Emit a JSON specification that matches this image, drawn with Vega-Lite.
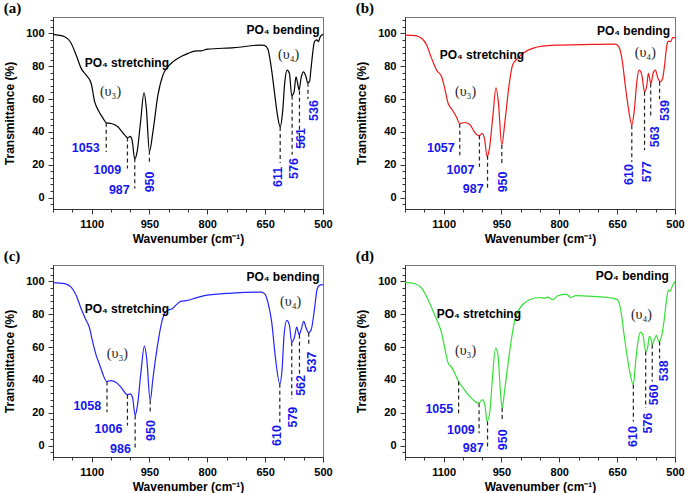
{
  "$schema": "https://vega.github.io/schema/vega-lite/v6.json",
  "background": "white",
  "padding": {"left": 3, "top": 0, "right": 4, "bottom": 2},
  "config": {
    "font": "Liberation Sans",
    "view": {"stroke": "#777", "strokeWidth": 1},
    "axis": {"grid": false, "labelFont": "Liberation Sans", "labelFontWeight": "bold", "labelFontSize": 11, "labelColor": "#000", "titleFont": "Liberation Sans", "titleFontWeight": "bold", "titleFontSize": 12, "titleColor": "#000", "domainColor": "#333", "tickColor": "#333", "tickSize": 5, "labelFlush": false, "labelOverlap": false, "labelPadding": 4},
    "title": {"font": "Liberation Serif", "fontSize": 15, "fontWeight": "bold", "anchor": "start", "frame": "bounds", "offset": 1, "color": "#000"},
    "text": {"font": "Liberation Sans"}
  },
  "datasets": {
    "curve": [
      {"p":"a","wn":1200,"t":99.4},{"p":"a","wn":1170,"t":98},{"p":"a","wn":1153,"t":94},{"p":"a","wn":1140,"t":86.8},{"p":"a","wn":1127,"t":78.7},{"p":"a","wn":1114,"t":74.6},{"p":"a","wn":1101,"t":69.5},{"p":"a","wn":1092,"t":58.4},{"p":"a","wn":1083,"t":53.3},{"p":"a","wn":1070,"t":48.2},{"p":"a","wn":1062,"t":45.5},{"p":"a","wn":1049,"t":45.1},{"p":"a","wn":1032,"t":43.1},{"p":"a","wn":1014,"t":38},{"p":"a","wn":1006,"t":36.4},{"p":"a","wn":1000,"t":37.2},{"p":"a","wn":995,"t":35},{"p":"a","wn":988,"t":23.5},{"p":"a","wn":982,"t":27.8},{"p":"a","wn":973,"t":46},{"p":"a","wn":964,"t":64},{"p":"a","wn":958,"t":54.3},{"p":"a","wn":950,"t":28},{"p":"a","wn":941,"t":40},{"p":"a","wn":928,"t":62.4},{"p":"a","wn":915,"t":74.6},{"p":"a","wn":902,"t":79.7},{"p":"a","wn":890,"t":82.5},{"p":"a","wn":876,"t":84.8},{"p":"a","wn":864,"t":86.4},{"p":"a","wn":850,"t":87.8},{"p":"a","wn":833,"t":89.2},{"p":"a","wn":816,"t":89.4},{"p":"a","wn":799,"t":90.4},{"p":"a","wn":730,"t":91.3},{"p":"a","wn":661,"t":92.9},{"p":"a","wn":652,"t":92.7},{"p":"a","wn":643,"t":90.5},{"p":"a","wn":635,"t":80.7},{"p":"a","wn":626,"t":64.4},{"p":"a","wn":618,"t":50},{"p":"a","wn":611,"t":43},{"p":"a","wn":605,"t":51.4},{"p":"a","wn":599,"t":70.5},{"p":"a","wn":593,"t":77.6},{"p":"a","wn":587,"t":75.6},{"p":"a","wn":581,"t":62},{"p":"a","wn":575,"t":64.4},{"p":"a","wn":570,"t":73.6},{"p":"a","wn":565,"t":68.5},{"p":"a","wn":562,"t":65.4},{"p":"a","wn":557,"t":72.6},{"p":"a","wn":551,"t":76.6},{"p":"a","wn":544,"t":73.6},{"p":"a","wn":540,"t":70},{"p":"a","wn":535,"t":70.5},{"p":"a","wn":531,"t":78.7},{"p":"a","wn":522,"t":95},{"p":"a","wn":516,"t":96},{"p":"a","wn":512,"t":95},{"p":"a","wn":507,"t":98},{"p":"a","wn":500,"t":99.4},
      {"p":"b","wn":1200,"t":99},{"p":"b","wn":1174,"t":98.6},{"p":"b","wn":1157,"t":97},{"p":"b","wn":1144,"t":92.9},{"p":"b","wn":1131,"t":84.8},{"p":"b","wn":1118,"t":77.6},{"p":"b","wn":1105,"t":73.6},{"p":"b","wn":1097,"t":66.5},{"p":"b","wn":1088,"t":57.3},{"p":"b","wn":1080,"t":54.3},{"p":"b","wn":1067,"t":49.2},{"p":"b","wn":1058,"t":45.1},{"p":"b","wn":1045,"t":45.7},{"p":"b","wn":1032,"t":44.5},{"p":"b","wn":1020,"t":40},{"p":"b","wn":1008,"t":37.6},{"p":"b","wn":1000,"t":39},{"p":"b","wn":994,"t":36},{"p":"b","wn":987,"t":25},{"p":"b","wn":981,"t":30},{"p":"b","wn":972,"t":50.2},{"p":"b","wn":964,"t":66.9},{"p":"b","wn":958,"t":58.3},{"p":"b","wn":949,"t":31.9},{"p":"b","wn":941,"t":46.1},{"p":"b","wn":929,"t":70.5},{"p":"b","wn":921,"t":80.7},{"p":"b","wn":908,"t":84.8},{"p":"b","wn":891,"t":88.4},{"p":"b","wn":869,"t":90.9},{"p":"b","wn":844,"t":92.3},{"p":"b","wn":801,"t":92.9},{"p":"b","wn":715,"t":93.3},{"p":"b","wn":655,"t":93.5},{"p":"b","wn":646,"t":91.9},{"p":"b","wn":637,"t":83.7},{"p":"b","wn":629,"t":68.5},{"p":"b","wn":618,"t":50.2},{"p":"b","wn":612,"t":44.1},{"p":"b","wn":605,"t":54.3},{"p":"b","wn":599,"t":70.5},{"p":"b","wn":593,"t":77.6},{"p":"b","wn":586,"t":74.6},{"p":"b","wn":579,"t":64.4},{"p":"b","wn":573,"t":68.5},{"p":"b","wn":569,"t":75.6},{"p":"b","wn":564,"t":70.5},{"p":"b","wn":562,"t":69.5},{"p":"b","wn":557,"t":75.6},{"p":"b","wn":551,"t":77.6},{"p":"b","wn":544,"t":72.6},{"p":"b","wn":538,"t":70.5},{"p":"b","wn":532,"t":72.6},{"p":"b","wn":527,"t":80.7},{"p":"b","wn":521,"t":92.9},{"p":"b","wn":517,"t":95.3},{"p":"b","wn":511,"t":95},{"p":"b","wn":506,"t":97.4},{"p":"b","wn":500,"t":97.4},
      {"p":"c","wn":1200,"t":99.2},{"p":"c","wn":1170,"t":98.6},{"p":"c","wn":1153,"t":96.5},{"p":"c","wn":1140,"t":91.5},{"p":"c","wn":1127,"t":83.3},{"p":"c","wn":1116,"t":77.2},{"p":"c","wn":1106,"t":72.2},{"p":"c","wn":1097,"t":63},{"p":"c","wn":1088,"t":54.9},{"p":"c","wn":1080,"t":49.8},{"p":"c","wn":1071,"t":43.7},{"p":"c","wn":1061,"t":39},{"p":"c","wn":1050,"t":39.6},{"p":"c","wn":1037,"t":38.6},{"p":"c","wn":1024,"t":35.6},{"p":"c","wn":1007,"t":30.9},{"p":"c","wn":1000,"t":31.5},{"p":"c","wn":994,"t":29.5},{"p":"c","wn":987,"t":18.3},{"p":"c","wn":981,"t":24.4},{"p":"c","wn":972,"t":44.7},{"p":"c","wn":963,"t":60.6},{"p":"c","wn":957,"t":52.8},{"p":"c","wn":948,"t":27.4},{"p":"c","wn":941,"t":40.7},{"p":"c","wn":929,"t":61},{"p":"c","wn":917,"t":76.2},{"p":"c","wn":904,"t":82.3},{"p":"c","wn":891,"t":83.3},{"p":"c","wn":882,"t":85.4},{"p":"c","wn":869,"t":87.8},{"p":"c","wn":852,"t":88.4},{"p":"c","wn":831,"t":89.8},{"p":"c","wn":805,"t":91.5},{"p":"c","wn":736,"t":92.9},{"p":"c","wn":659,"t":93.5},{"p":"c","wn":650,"t":92.1},{"p":"c","wn":642,"t":86.4},{"p":"c","wn":633,"t":75.2},{"p":"c","wn":623,"t":52.8},{"p":"c","wn":612,"t":37.6},{"p":"c","wn":606,"t":46.7},{"p":"c","wn":601,"t":67.1},{"p":"c","wn":594,"t":76.2},{"p":"c","wn":587,"t":73.2},{"p":"c","wn":581,"t":63},{"p":"c","wn":574,"t":66},{"p":"c","wn":568,"t":72.2},{"p":"c","wn":562,"t":67.5},{"p":"c","wn":556,"t":71.1},{"p":"c","wn":550,"t":75.6},{"p":"c","wn":543,"t":71.1},{"p":"c","wn":537,"t":68.7},{"p":"c","wn":530,"t":71.1},{"p":"c","wn":522,"t":83.3},{"p":"c","wn":515,"t":95.5},{"p":"c","wn":509,"t":97.6},{"p":"c","wn":500,"t":98},
      {"p":"d","wn":1200,"t":99.4},{"p":"d","wn":1174,"t":98.6},{"p":"d","wn":1157,"t":95.9},{"p":"d","wn":1140,"t":88.8},{"p":"d","wn":1127,"t":81.7},{"p":"d","wn":1114,"t":74.6},{"p":"d","wn":1105,"t":68.5},{"p":"d","wn":1097,"t":59.3},{"p":"d","wn":1088,"t":50.2},{"p":"d","wn":1079,"t":47.6},{"p":"d","wn":1071,"t":44.1},{"p":"d","wn":1061,"t":39},{"p":"d","wn":1049,"t":35},{"p":"d","wn":1036,"t":30.9},{"p":"d","wn":1023,"t":27.8},{"p":"d","wn":1011,"t":25.8},{"p":"d","wn":1006,"t":26.4},{"p":"d","wn":999,"t":27.8},{"p":"d","wn":993,"t":24.8},{"p":"d","wn":987,"t":14.6},{"p":"d","wn":980,"t":20.7},{"p":"d","wn":974,"t":39},{"p":"d","wn":965,"t":59.3},{"p":"d","wn":959,"t":55.3},{"p":"d","wn":952,"t":30.9},{"p":"d","wn":948,"t":22.8},{"p":"d","wn":942,"t":32.9},{"p":"d","wn":931,"t":53.3},{"p":"d","wn":916,"t":75.6},{"p":"d","wn":899,"t":84.8},{"p":"d","wn":877,"t":88.8},{"p":"d","wn":851,"t":90.2},{"p":"d","wn":838,"t":89.8},{"p":"d","wn":830,"t":90.4},{"p":"d","wn":817,"t":88.8},{"p":"d","wn":804,"t":91.3},{"p":"d","wn":782,"t":92.3},{"p":"d","wn":770,"t":90.2},{"p":"d","wn":757,"t":91.3},{"p":"d","wn":714,"t":90.9},{"p":"d","wn":662,"t":89.8},{"p":"d","wn":649,"t":88.8},{"p":"d","wn":640,"t":81.7},{"p":"d","wn":632,"t":67.5},{"p":"d","wn":619,"t":47.2},{"p":"d","wn":608,"t":37},{"p":"d","wn":602,"t":51.2},{"p":"d","wn":596,"t":63.4},{"p":"d","wn":589,"t":69.1},{"p":"d","wn":583,"t":67.1},{"p":"d","wn":576,"t":57.3},{"p":"d","wn":571,"t":59.3},{"p":"d","wn":567,"t":66.5},{"p":"d","wn":563,"t":65.4},{"p":"d","wn":559,"t":61.4},{"p":"d","wn":554,"t":64.4},{"p":"d","wn":548,"t":67.1},{"p":"d","wn":543,"t":63.8},{"p":"d","wn":540,"t":63.4},{"p":"d","wn":535,"t":66.5},{"p":"d","wn":528,"t":76.6},{"p":"d","wn":522,"t":88.8},{"p":"d","wn":517,"t":94.9},{"p":"d","wn":513,"t":93.9},{"p":"d","wn":507,"t":97},{"p":"d","wn":500,"t":100}
    ],
    "dash": [
      {"p":"a","wn":1062,"t1":45.5,"t2":27.8},{"p":"a","wn":1007,"t1":36.5,"t2":17.7},{"p":"a","wn":988,"t1":24,"t2":5.5},{"p":"a","wn":950,"t1":28.5,"t2":20},{"p":"a","wn":611,"t1":43,"t2":21},{"p":"a","wn":580,"t1":62,"t2":26},{"p":"a","wn":561,"t1":65,"t2":30},{"p":"a","wn":539,"t1":70,"t2":60},
      {"p":"b","wn":1058,"t1":45,"t2":25.8},{"p":"b","wn":1007,"t1":37.8,"t2":18.7},{"p":"b","wn":986,"t1":25.5,"t2":5.5},{"p":"b","wn":949,"t1":32,"t2":20},{"p":"b","wn":612,"t1":44,"t2":21.7},{"p":"b","wn":579,"t1":64.4,"t2":29},{"p":"b","wn":563,"t1":69.5,"t2":49},{"p":"b","wn":540,"t1":70.5,"t2":60},
      {"p":"c","wn":1060,"t1":39,"t2":20.3},{"p":"c","wn":1007,"t1":30.9,"t2":12.2},{"p":"c","wn":987,"t1":18.3,"t2":-3},{"p":"c","wn":948,"t1":27.4,"t2":20.3},{"p":"c","wn":612,"t1":37.6,"t2":14.2},{"p":"c","wn":581,"t1":63,"t2":28.5},{"p":"c","wn":561,"t1":67.5,"t2":43.7},{"p":"c","wn":537,"t1":68.7,"t2":61},
      {"p":"d","wn":1061,"t1":39,"t2":19.7},{"p":"d","wn":1008,"t1":25.8,"t2":7.5},{"p":"d","wn":986,"t1":14.6,"t2":-2.6},{"p":"d","wn":948,"t1":22.8,"t2":14.6},{"p":"d","wn":608,"t1":37,"t2":14.6},{"p":"d","wn":576,"t1":57.3,"t2":22.8},{"p":"d","wn":559,"t1":61.4,"t2":39},{"p":"d","wn":540,"t1":63.4,"t2":53}
    ],
    "lab": [
      {"p":"a","k":"h","wn":1079,"t":29.9,"s":"1053"},{"p":"a","k":"h","wn":1023,"t":16.7,"s":"1009"},{"p":"a","k":"h","wn":1001,"t":4.5,"s":"987"},
      {"p":"a","k":"v","wn":949,"t":9.5,"s":"950"},{"p":"a","k":"v","wn":617,"t":12.6,"s":"611"},{"p":"a","k":"v","wn":574,"t":17.7,"s":"576"},{"p":"a","k":"v","wn":556,"t":36,"s":"561"},{"p":"a","k":"v","wn":523,"t":53,"s":"536"},
      {"p":"a","k":"s","wn":1118,"t":81.7,"s":"PO₄ stretching"},{"p":"a","k":"b","wn":509,"t":102,"s":"PO₄ bending"},{"p":"a","k":"u","wn":1051,"t":64,"s":"(υ₃)"},{"p":"a","k":"u","wn":589,"t":86.8,"s":"(υ₄)"},
      {"p":"b","k":"h","wn":1071,"t":29.9,"s":"1057"},{"p":"b","k":"h","wn":1020,"t":16.7,"s":"1007"},{"p":"b","k":"h","wn":996,"t":5,"s":"987"},
      {"p":"b","k":"v","wn":947,"t":9.5,"s":"950"},{"p":"b","k":"v","wn":618,"t":14,"s":"610"},{"p":"b","k":"v","wn":573,"t":15.7,"s":"577"},{"p":"b","k":"v","wn":551,"t":37,"s":"563"},{"p":"b","k":"v","wn":527,"t":53,"s":"539"},
      {"p":"b","k":"s","wn":1110,"t":86.8,"s":"PO₄ stretching"},{"p":"b","k":"b","wn":513,"t":101.6,"s":"PO₄ bending"},{"p":"b","k":"u","wn":1043,"t":64,"s":"(υ₃)"},{"p":"b","k":"u","wn":577,"t":87.8,"s":"(υ₄)"},
      {"p":"c","k":"h","wn":1075,"t":23.8,"s":"1058"},{"p":"c","k":"h","wn":1020,"t":10.2,"s":"1006"},{"p":"c","k":"h","wn":998,"t":-2,"s":"986"},
      {"p":"c","k":"v","wn":947,"t":9.1,"s":"950"},{"p":"c","k":"v","wn":618,"t":6.1,"s":"610"},{"p":"c","k":"v","wn":577,"t":17.3,"s":"579"},{"p":"c","k":"v","wn":556,"t":36.6,"s":"562"},{"p":"c","k":"v","wn":528,"t":50.8,"s":"537"},
      {"p":"c","k":"s","wn":1118,"t":83,"s":"PO₄ stretching"},{"p":"c","k":"b","wn":509,"t":102.6,"s":"PO₄ bending"},{"p":"c","k":"u","wn":1033,"t":55.9,"s":"(υ₃)"},{"p":"c","k":"u","wn":584,"t":87.4,"s":"(υ₄)"},
      {"p":"d","k":"h","wn":1075,"t":22,"s":"1055"},{"p":"d","k":"h","wn":1019,"t":9.6,"s":"1009"},{"p":"d","k":"h","wn":996,"t":-1.6,"s":"987"},
      {"p":"d","k":"v","wn":946,"t":3.5,"s":"950"},{"p":"d","k":"v","wn":610,"t":5.5,"s":"610"},{"p":"d","k":"v","wn":571,"t":13.6,"s":"576"},{"p":"d","k":"v","wn":554,"t":30.9,"s":"560"},{"p":"d","k":"v","wn":528,"t":45.5,"s":"538"},
      {"p":"d","k":"s","wn":1118,"t":80.3,"s":"PO₄ stretching"},{"p":"d","k":"b","wn":516,"t":103,"s":"PO₄ bending"},{"p":"d","k":"u","wn":1043,"t":57.3,"s":"(υ₃)"},{"p":"d","k":"u","wn":587,"t":79.7,"s":"(υ₄)"}
    ]
  },
  "vconcat": [
    {"spacing": 22, "hconcat": [
      {"title": "(a)", "width": 270, "height": 192, "resolve": {"axis": {"x": "independent", "y": "independent"}},
       "layer": [
        {"data": {"name": "curve"}, "transform": [{"filter": "datum.p=='a'"}], "mark": {"type": "line", "color": "#000000", "strokeWidth": 1.2, "interpolate": "monotone"},
         "encoding": {"x": {"field": "wn", "type": "quantitative", "scale": {"domain": [500, 1200], "reverse": true, "nice": false, "zero": false}, "axis": {"values": [1100, 950, 800, 650, 500], "format": "d", "title": "Wavenumber (cm⁻¹)"}},
                      "y": {"field": "t", "type": "quantitative", "scale": {"domain": [-7, 110], "nice": false, "zero": false}, "axis": {"values": [0, 20, 40, 60, 80, 100], "title": "Transmittance (%)", "titlePadding": 9}},
                      "order": {"field": "wn", "sort": "descending"}}},
        {"data": {"name": "dash"}, "transform": [{"filter": "datum.p=='a'"}], "mark": {"type": "rule", "strokeDash": [4, 3], "color": "#222", "strokeWidth": 1.2},
         "encoding": {"x": {"field": "wn", "type": "quantitative", "scale": {"domain": [500, 1200], "reverse": true, "nice": false, "zero": false}, "axis": {"values": [1200, 1150, 1050, 1000, 900, 850, 750, 700, 600, 550], "labels": false, "domain": false, "tickSize": 3, "title": null, "orient": "bottom"}},
                      "y": {"field": "t1", "type": "quantitative", "scale": {"domain": [-7, 110], "nice": false, "zero": false}, "axis": {"values": [-4, 4, 8, 12, 16, 24, 28, 32, 36, 44, 48, 52, 56, 64, 68, 72, 76, 84, 88, 92, 96, 104, 108], "labels": false, "domain": false, "tickSize": 3, "title": null, "orient": "left"}},
                      "y2": {"field": "t2"}}},
        {"data": {"name": "lab"}, "transform": [{"filter": "datum.p=='a' && datum.k=='h'"}], "mark": {"type": "text", "align": "right", "baseline": "middle", "fontWeight": "bold", "fontSize": 12.5, "color": "#1515f0"},
         "encoding": {"x": {"field": "wn", "type": "quantitative", "axis": null}, "y": {"field": "t", "type": "quantitative", "axis": null}, "text": {"field": "s"}}},
        {"data": {"name": "lab"}, "transform": [{"filter": "datum.p=='a' && datum.k=='v'"}], "mark": {"type": "text", "align": "center", "baseline": "middle", "angle": 270, "fontWeight": "bold", "fontSize": 12.5, "color": "#1515f0"},
         "encoding": {"x": {"field": "wn", "type": "quantitative", "axis": null}, "y": {"field": "t", "type": "quantitative", "axis": null}, "text": {"field": "s"}}},
        {"data": {"name": "lab"}, "transform": [{"filter": "datum.p=='a' && datum.k=='s'"}], "mark": {"type": "text", "align": "left", "baseline": "middle", "fontWeight": "bold", "fontSize": 12, "color": "#000"},
         "encoding": {"x": {"field": "wn", "type": "quantitative", "axis": null}, "y": {"field": "t", "type": "quantitative", "axis": null}, "text": {"field": "s"}}},
        {"data": {"name": "lab"}, "transform": [{"filter": "datum.p=='a' && datum.k=='b'"}], "mark": {"type": "text", "align": "right", "baseline": "middle", "fontWeight": "bold", "fontSize": 12, "color": "#000"},
         "encoding": {"x": {"field": "wn", "type": "quantitative", "axis": null}, "y": {"field": "t", "type": "quantitative", "axis": null}, "text": {"field": "s"}}},
        {"data": {"name": "lab"}, "transform": [{"filter": "datum.p=='a' && datum.k=='u'"}], "mark": {"type": "text", "align": "center", "baseline": "middle", "font": "Liberation Serif", "fontSize": 14, "color": "#222"},
         "encoding": {"x": {"field": "wn", "type": "quantitative", "axis": null}, "y": {"field": "t", "type": "quantitative", "axis": null}, "text": {"field": "s"}}}
       ]},
      {"title": "(b)", "width": 270, "height": 192, "resolve": {"axis": {"x": "independent", "y": "independent"}},
       "layer": [
        {"data": {"name": "curve"}, "transform": [{"filter": "datum.p=='b'"}], "mark": {"type": "line", "color": "#f01818", "strokeWidth": 1.2, "interpolate": "monotone"},
         "encoding": {"x": {"field": "wn", "type": "quantitative", "scale": {"domain": [500, 1200], "reverse": true, "nice": false, "zero": false}, "axis": {"values": [1100, 950, 800, 650, 500], "format": "d", "title": "Wavenumber (cm⁻¹)"}},
                      "y": {"field": "t", "type": "quantitative", "scale": {"domain": [-7, 110], "nice": false, "zero": false}, "axis": {"values": [0, 20, 40, 60, 80, 100], "title": "Transmittance (%)", "titlePadding": 9}},
                      "order": {"field": "wn", "sort": "descending"}}},
        {"data": {"name": "dash"}, "transform": [{"filter": "datum.p=='b'"}], "mark": {"type": "rule", "strokeDash": [4, 3], "color": "#222", "strokeWidth": 1.2},
         "encoding": {"x": {"field": "wn", "type": "quantitative", "scale": {"domain": [500, 1200], "reverse": true, "nice": false, "zero": false}, "axis": {"values": [1200, 1150, 1050, 1000, 900, 850, 750, 700, 600, 550], "labels": false, "domain": false, "tickSize": 3, "title": null, "orient": "bottom"}},
                      "y": {"field": "t1", "type": "quantitative", "scale": {"domain": [-7, 110], "nice": false, "zero": false}, "axis": {"values": [-4, 4, 8, 12, 16, 24, 28, 32, 36, 44, 48, 52, 56, 64, 68, 72, 76, 84, 88, 92, 96, 104, 108], "labels": false, "domain": false, "tickSize": 3, "title": null, "orient": "left"}},
                      "y2": {"field": "t2"}}},
        {"data": {"name": "lab"}, "transform": [{"filter": "datum.p=='b' && datum.k=='h'"}], "mark": {"type": "text", "align": "right", "baseline": "middle", "fontWeight": "bold", "fontSize": 12.5, "color": "#1515f0"},
         "encoding": {"x": {"field": "wn", "type": "quantitative", "axis": null}, "y": {"field": "t", "type": "quantitative", "axis": null}, "text": {"field": "s"}}},
        {"data": {"name": "lab"}, "transform": [{"filter": "datum.p=='b' && datum.k=='v'"}], "mark": {"type": "text", "align": "center", "baseline": "middle", "angle": 270, "fontWeight": "bold", "fontSize": 12.5, "color": "#1515f0"},
         "encoding": {"x": {"field": "wn", "type": "quantitative", "axis": null}, "y": {"field": "t", "type": "quantitative", "axis": null}, "text": {"field": "s"}}},
        {"data": {"name": "lab"}, "transform": [{"filter": "datum.p=='b' && datum.k=='s'"}], "mark": {"type": "text", "align": "left", "baseline": "middle", "fontWeight": "bold", "fontSize": 12, "color": "#000"},
         "encoding": {"x": {"field": "wn", "type": "quantitative", "axis": null}, "y": {"field": "t", "type": "quantitative", "axis": null}, "text": {"field": "s"}}},
        {"data": {"name": "lab"}, "transform": [{"filter": "datum.p=='b' && datum.k=='b'"}], "mark": {"type": "text", "align": "right", "baseline": "middle", "fontWeight": "bold", "fontSize": 12, "color": "#000"},
         "encoding": {"x": {"field": "wn", "type": "quantitative", "axis": null}, "y": {"field": "t", "type": "quantitative", "axis": null}, "text": {"field": "s"}}},
        {"data": {"name": "lab"}, "transform": [{"filter": "datum.p=='b' && datum.k=='u'"}], "mark": {"type": "text", "align": "center", "baseline": "middle", "font": "Liberation Serif", "fontSize": 14, "color": "#222"},
         "encoding": {"x": {"field": "wn", "type": "quantitative", "axis": null}, "y": {"field": "t", "type": "quantitative", "axis": null}, "text": {"field": "s"}}}
       ]}
    ]},
    {"spacing": 22, "hconcat": [
      {"title": "(c)", "width": 270, "height": 192, "resolve": {"axis": {"x": "independent", "y": "independent"}},
       "layer": [
        {"data": {"name": "curve"}, "transform": [{"filter": "datum.p=='c'"}], "mark": {"type": "line", "color": "#2424ff", "strokeWidth": 1.2, "interpolate": "monotone"},
         "encoding": {"x": {"field": "wn", "type": "quantitative", "scale": {"domain": [500, 1200], "reverse": true, "nice": false, "zero": false}, "axis": {"values": [1100, 950, 800, 650, 500], "format": "d", "title": "Wavenumber (cm⁻¹)"}},
                      "y": {"field": "t", "type": "quantitative", "scale": {"domain": [-7, 110], "nice": false, "zero": false}, "axis": {"values": [0, 20, 40, 60, 80, 100], "title": "Transmittance (%)", "titlePadding": 9}},
                      "order": {"field": "wn", "sort": "descending"}}},
        {"data": {"name": "dash"}, "transform": [{"filter": "datum.p=='c'"}], "mark": {"type": "rule", "strokeDash": [4, 3], "color": "#222", "strokeWidth": 1.2},
         "encoding": {"x": {"field": "wn", "type": "quantitative", "scale": {"domain": [500, 1200], "reverse": true, "nice": false, "zero": false}, "axis": {"values": [1200, 1150, 1050, 1000, 900, 850, 750, 700, 600, 550], "labels": false, "domain": false, "tickSize": 3, "title": null, "orient": "bottom"}},
                      "y": {"field": "t1", "type": "quantitative", "scale": {"domain": [-7, 110], "nice": false, "zero": false}, "axis": {"values": [-4, 4, 8, 12, 16, 24, 28, 32, 36, 44, 48, 52, 56, 64, 68, 72, 76, 84, 88, 92, 96, 104, 108], "labels": false, "domain": false, "tickSize": 3, "title": null, "orient": "left"}},
                      "y2": {"field": "t2"}}},
        {"data": {"name": "lab"}, "transform": [{"filter": "datum.p=='c' && datum.k=='h'"}], "mark": {"type": "text", "align": "right", "baseline": "middle", "fontWeight": "bold", "fontSize": 12.5, "color": "#1515f0"},
         "encoding": {"x": {"field": "wn", "type": "quantitative", "axis": null}, "y": {"field": "t", "type": "quantitative", "axis": null}, "text": {"field": "s"}}},
        {"data": {"name": "lab"}, "transform": [{"filter": "datum.p=='c' && datum.k=='v'"}], "mark": {"type": "text", "align": "center", "baseline": "middle", "angle": 270, "fontWeight": "bold", "fontSize": 12.5, "color": "#1515f0"},
         "encoding": {"x": {"field": "wn", "type": "quantitative", "axis": null}, "y": {"field": "t", "type": "quantitative", "axis": null}, "text": {"field": "s"}}},
        {"data": {"name": "lab"}, "transform": [{"filter": "datum.p=='c' && datum.k=='s'"}], "mark": {"type": "text", "align": "left", "baseline": "middle", "fontWeight": "bold", "fontSize": 12, "color": "#000"},
         "encoding": {"x": {"field": "wn", "type": "quantitative", "axis": null}, "y": {"field": "t", "type": "quantitative", "axis": null}, "text": {"field": "s"}}},
        {"data": {"name": "lab"}, "transform": [{"filter": "datum.p=='c' && datum.k=='b'"}], "mark": {"type": "text", "align": "right", "baseline": "middle", "fontWeight": "bold", "fontSize": 12, "color": "#000"},
         "encoding": {"x": {"field": "wn", "type": "quantitative", "axis": null}, "y": {"field": "t", "type": "quantitative", "axis": null}, "text": {"field": "s"}}},
        {"data": {"name": "lab"}, "transform": [{"filter": "datum.p=='c' && datum.k=='u'"}], "mark": {"type": "text", "align": "center", "baseline": "middle", "font": "Liberation Serif", "fontSize": 14, "color": "#222"},
         "encoding": {"x": {"field": "wn", "type": "quantitative", "axis": null}, "y": {"field": "t", "type": "quantitative", "axis": null}, "text": {"field": "s"}}}
       ]},
      {"title": "(d)", "width": 270, "height": 192, "resolve": {"axis": {"x": "independent", "y": "independent"}},
       "layer": [
        {"data": {"name": "curve"}, "transform": [{"filter": "datum.p=='d'"}], "mark": {"type": "line", "color": "#33e033", "strokeWidth": 1.2, "interpolate": "monotone"},
         "encoding": {"x": {"field": "wn", "type": "quantitative", "scale": {"domain": [500, 1200], "reverse": true, "nice": false, "zero": false}, "axis": {"values": [1100, 950, 800, 650, 500], "format": "d", "title": "Wavenumber (cm⁻¹)"}},
                      "y": {"field": "t", "type": "quantitative", "scale": {"domain": [-7, 110], "nice": false, "zero": false}, "axis": {"values": [0, 20, 40, 60, 80, 100], "title": "Transmittance (%)", "titlePadding": 9}},
                      "order": {"field": "wn", "sort": "descending"}}},
        {"data": {"name": "dash"}, "transform": [{"filter": "datum.p=='d'"}], "mark": {"type": "rule", "strokeDash": [4, 3], "color": "#222", "strokeWidth": 1.2},
         "encoding": {"x": {"field": "wn", "type": "quantitative", "scale": {"domain": [500, 1200], "reverse": true, "nice": false, "zero": false}, "axis": {"values": [1200, 1150, 1050, 1000, 900, 850, 750, 700, 600, 550], "labels": false, "domain": false, "tickSize": 3, "title": null, "orient": "bottom"}},
                      "y": {"field": "t1", "type": "quantitative", "scale": {"domain": [-7, 110], "nice": false, "zero": false}, "axis": {"values": [-4, 4, 8, 12, 16, 24, 28, 32, 36, 44, 48, 52, 56, 64, 68, 72, 76, 84, 88, 92, 96, 104, 108], "labels": false, "domain": false, "tickSize": 3, "title": null, "orient": "left"}},
                      "y2": {"field": "t2"}}},
        {"data": {"name": "lab"}, "transform": [{"filter": "datum.p=='d' && datum.k=='h'"}], "mark": {"type": "text", "align": "right", "baseline": "middle", "fontWeight": "bold", "fontSize": 12.5, "color": "#1515f0"},
         "encoding": {"x": {"field": "wn", "type": "quantitative", "axis": null}, "y": {"field": "t", "type": "quantitative", "axis": null}, "text": {"field": "s"}}},
        {"data": {"name": "lab"}, "transform": [{"filter": "datum.p=='d' && datum.k=='v'"}], "mark": {"type": "text", "align": "center", "baseline": "middle", "angle": 270, "fontWeight": "bold", "fontSize": 12.5, "color": "#1515f0"},
         "encoding": {"x": {"field": "wn", "type": "quantitative", "axis": null}, "y": {"field": "t", "type": "quantitative", "axis": null}, "text": {"field": "s"}}},
        {"data": {"name": "lab"}, "transform": [{"filter": "datum.p=='d' && datum.k=='s'"}], "mark": {"type": "text", "align": "left", "baseline": "middle", "fontWeight": "bold", "fontSize": 12, "color": "#000"},
         "encoding": {"x": {"field": "wn", "type": "quantitative", "axis": null}, "y": {"field": "t", "type": "quantitative", "axis": null}, "text": {"field": "s"}}},
        {"data": {"name": "lab"}, "transform": [{"filter": "datum.p=='d' && datum.k=='b'"}], "mark": {"type": "text", "align": "right", "baseline": "middle", "fontWeight": "bold", "fontSize": 12, "color": "#000"},
         "encoding": {"x": {"field": "wn", "type": "quantitative", "axis": null}, "y": {"field": "t", "type": "quantitative", "axis": null}, "text": {"field": "s"}}},
        {"data": {"name": "lab"}, "transform": [{"filter": "datum.p=='d' && datum.k=='u'"}], "mark": {"type": "text", "align": "center", "baseline": "middle", "font": "Liberation Serif", "fontSize": 14, "color": "#222"},
         "encoding": {"x": {"field": "wn", "type": "quantitative", "axis": null}, "y": {"field": "t", "type": "quantitative", "axis": null}, "text": {"field": "s"}}}
       ]}
    ]}
  ],
  "spacing": 3
}
